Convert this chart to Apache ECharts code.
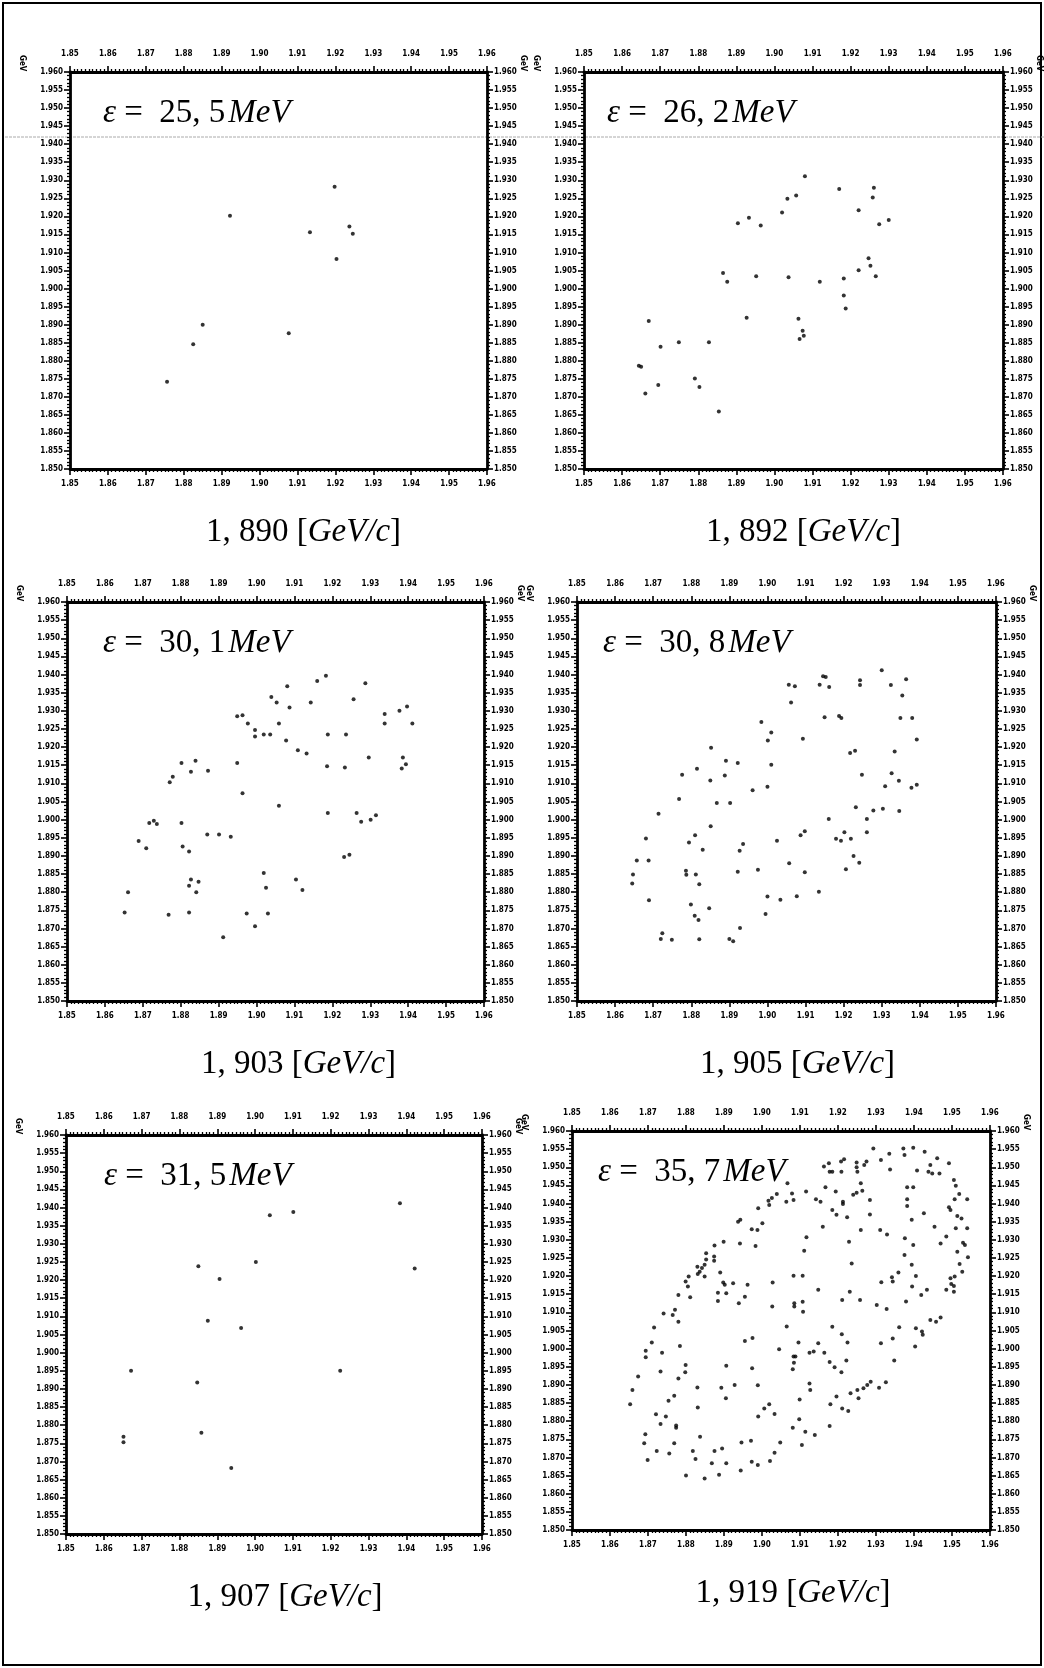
<!DOCTYPE html>
<html><head><meta charset="utf-8">
<script src="https://cdn.jsdelivr.net/npm/echarts@6/dist/echarts.min.js"></script>
<style>html,body{margin:0;padding:0;background:#fff}#c{width:1044px;height:1668px}</style>
</head><body><div id="c"></div><script>
// energies (MeV) and beam momenta (GeV/c) of the six panels
const epsilons = ['25, 5', '26, 2', '30, 1', '30, 8', '31, 5', '35, 7'];
const momenta = ['1, 890', '1, 892', '1, 903', '1, 905', '1, 907', '1, 919'];
// axis range, MeV (labels shown in GeV)
const xRange = [1850, 1960], xStep = 10;
const yRange = [1850, 1960], yStep = 5;

const pts1890 = [[1919.8,1928.2],[1892.2,1920.2],[1913.3,1915.6],[1923.7,1917.2],[1924.6,1915.2],[1920.3,1908.2],[1885.0,1890.0],[1882.5,1884.6],[1907.7,1887.6],[1875.6,1874.2]];

const pts1892 = [[1908.0,1931.1],[1917.0,1927.6],[1926.1,1927.9],[1925.8,1925.2],[1903.4,1924.9],[1905.7,1925.8],[1922.1,1921.7],[1902.0,1921.1],[1890.4,1918.1],[1893.3,1919.6],[1896.4,1917.5],[1927.5,1917.8],[1930.0,1919.0],[1924.7,1908.4],[1925.2,1906.3],[1922.1,1905.1],[1886.5,1904.3],[1887.6,1901.9],[1895.2,1903.4],[1903.7,1903.1],[1911.9,1901.9],[1918.2,1902.8],[1926.6,1903.4],[1918.2,1898.1],[1918.7,1894.5],[1892.7,1891.9],[1906.3,1891.6],[1907.4,1888.3],[1907.7,1886.9],[1906.6,1886.0],[1867.0,1891.0],[1870.1,1883.9],[1874.9,1885.1],[1882.8,1885.1],[1864.4,1878.6],[1865.0,1878.3],[1869.5,1873.3],[1866.1,1870.9],[1879.1,1875.1],[1880.3,1872.7],[1885.4,1865.9]];

const pts1903 = [[1918.3,1939.7],[1916.0,1938.2],[1908.1,1936.8],[1928.7,1937.6],[1903.9,1933.8],[1905.3,1932.3],[1925.6,1933.2],[1908.7,1930.9],[1914.3,1932.3],[1939.7,1931.2],[1937.7,1930.0],[1933.8,1929.1],[1941.1,1926.5],[1933.8,1926.5],[1894.9,1928.5],[1896.3,1928.8],[1897.7,1926.5],[1899.6,1924.7],[1899.6,1922.9],[1901.9,1923.5],[1903.6,1923.5],[1905.9,1926.5],[1907.8,1921.8],[1910.9,1919.1],[1913.2,1918.2],[1918.6,1914.7],[1923.3,1914.4],[1929.6,1917.1],[1938.6,1917.1],[1939.4,1915.3],[1938.3,1914.1],[1923.6,1923.5],[1918.8,1923.5],[1877.9,1911.8],[1882.7,1913.2],[1880.2,1915.6],[1883.9,1916.2],[1887.2,1913.5],[1877.1,1910.3],[1894.9,1915.6],[1896.3,1907.3],[1905.9,1903.8],[1872.9,1899.7],[1871.7,1899.1],[1873.7,1898.8],[1880.2,1899.1],[1918.8,1901.8],[1926.4,1901.8],[1927.6,1899.4],[1930.1,1900.0],[1931.5,1901.2],[1868.9,1894.1],[1870.9,1892.1],[1880.5,1892.6],[1882.2,1891.2],[1887.0,1895.9],[1890.1,1895.9],[1893.2,1895.3],[1923.1,1889.7],[1924.5,1890.3],[1882.7,1883.5],[1882.2,1881.8],[1884.1,1880.0],[1884.7,1882.9],[1901.9,1885.3],[1902.5,1881.2],[1910.4,1883.5],[1912.1,1880.6],[1866.1,1880.0],[1865.2,1874.4],[1876.8,1873.8],[1882.2,1874.4],[1897.4,1874.1],[1899.6,1870.6],[1903.0,1874.1],[1891.2,1867.6]];

const pts1905 = [[1930.0,1941.2],[1936.4,1938.7],[1932.4,1937.1],[1924.3,1938.4],[1924.3,1937.1],[1914.6,1939.5],[1915.3,1939.3],[1913.7,1937.2],[1916.2,1936.6],[1905.6,1937.2],[1907.2,1936.8],[1906.2,1932.3],[1935.4,1934.2],[1915.0,1928.2],[1918.8,1928.6],[1919.4,1928.0],[1934.9,1928.0],[1938.0,1928.0],[1939.2,1922.1],[1909.3,1922.3],[1898.4,1926.9],[1901.0,1924.0],[1900.1,1921.8],[1921.7,1918.4],[1923.0,1919.0],[1933.4,1918.8],[1885.2,1919.8],[1889.1,1916.2],[1892.2,1915.6],[1901.0,1915.1],[1877.6,1912.4],[1881.5,1914.0],[1885.0,1910.8],[1888.8,1912.2],[1900.0,1909.1],[1896.1,1908.1],[1924.8,1912.4],[1932.6,1912.8],[1934.5,1910.7],[1930.9,1909.2],[1937.8,1908.8],[1939.2,1909.6],[1876.8,1905.7],[1886.7,1904.6],[1890.2,1904.6],[1923.2,1903.4],[1927.8,1902.5],[1930.3,1903.0],[1934.6,1902.4],[1871.4,1901.6],[1916.1,1900.2],[1926.1,1900.2],[1885.1,1898.2],[1868.1,1894.8],[1881.0,1895.7],[1879.4,1893.7],[1883.0,1891.7],[1902.5,1894.2],[1908.7,1895.7],[1909.8,1896.8],[1893.6,1893.3],[1892.7,1891.4],[1918.0,1894.7],[1919.3,1894.2],[1920.2,1896.5],[1921.9,1894.7],[1922.6,1890.0],[1924.1,1888.1],[1920.6,1886.3],[1926.1,1896.5],[1865.7,1888.7],[1868.8,1888.7],[1864.7,1884.9],[1864.5,1882.4],[1878.6,1885.9],[1878.7,1884.8],[1881.2,1884.9],[1882.1,1882.2],[1892.2,1885.6],[1897.5,1886.2],[1905.7,1888.0],[1909.8,1885.5],[1868.9,1877.8],[1879.9,1876.6],[1880.9,1873.5],[1881.9,1872.3],[1884.7,1875.6],[1900.0,1878.8],[1903.4,1877.9],[1907.7,1878.9],[1913.5,1880.1],[1899.5,1874.0],[1892.8,1870.1],[1872.4,1868.7],[1872.0,1867.1],[1874.9,1866.9],[1882.1,1867.0],[1890.0,1867.1],[1891.0,1866.5]];

const pts1907 = [[1938.3,1941.2],[1903.9,1937.9],[1910.1,1938.8],[1942.2,1923.2],[1900.2,1925.0],[1885.0,1923.8],[1890.6,1920.3],[1887.5,1908.8],[1896.3,1906.8],[1867.2,1895.0],[1922.5,1895.0],[1884.7,1891.8],[1885.8,1877.9],[1865.2,1876.8],[1865.2,1875.3],[1893.7,1868.2]];

const pts1919 = [[1929.3,1955.2],[1937.2,1955.2],[1939.8,1955.4],[1942.8,1954.3],[1937.5,1953.4],[1933.5,1953.7],[1931.3,1952.0],[1927.5,1951.6],[1924.9,1951.3],[1921.6,1952.2],[1920.8,1951.6],[1926.9,1950.6],[1924.9,1950.0],[1917.6,1951.1],[1916.3,1950.2],[1917.8,1948.8],[1918.5,1948.8],[1920.9,1948.8],[1925.1,1948.8],[1933.7,1949.4],[1944.3,1950.6],[1946.1,1952.5],[1949.2,1951.1],[1940.8,1949.1],[1943.8,1948.8],[1944.8,1948.3],[1946.7,1948.3],[1950.5,1946.5],[1951.0,1944.9],[1938.2,1944.5],[1939.8,1944.5],[1951.9,1942.6],[1950.7,1941.2],[1954.0,1941.2],[1938.2,1941.2],[1938.2,1939.3],[1949.2,1939.0],[1949.6,1938.2],[1951.4,1936.6],[1952.5,1935.9],[1951.0,1933.2],[1954.0,1933.2],[1948.5,1930.9],[1947.0,1929.0],[1952.9,1929.2],[1953.4,1928.6],[1951.4,1926.7],[1954.2,1925.2],[1952.0,1923.3],[1952.7,1921.2],[1950.7,1919.9],[1949.6,1919.4],[1949.8,1917.8],[1950.5,1917.3],[1950.5,1915.7],[1948.5,1916.2],[1943.4,1916.2],[1941.9,1914.8],[1939.5,1917.1],[1940.5,1920.0],[1939.4,1923.1],[1937.5,1925.8],[1937.6,1930.4],[1939.8,1928.6],[1939.4,1935.5],[1942.6,1937.3],[1945.4,1933.6],[1937.9,1913.0],[1947.0,1908.6],[1945.8,1907.4],[1944.3,1907.9],[1940.5,1905.6],[1942.1,1904.7],[1942.3,1903.8],[1940.3,1900.6],[1936.1,1905.9],[1934.4,1902.8],[1931.3,1901.5],[1934.8,1896.7],[1932.8,1910.9],[1930.2,1912.0],[1935.9,1921.0],[1934.2,1919.7],[1934.4,1918.5],[1931.4,1918.3],[1925.8,1913.4],[1923.1,1915.7],[1921.1,1913.4],[1928.4,1937.0],[1931.1,1932.7],[1932.9,1931.5],[1926.0,1932.7],[1923.6,1923.5],[1922.9,1929.5],[1928.4,1941.0],[1926.0,1945.6],[1926.4,1943.5],[1924.0,1942.4],[1924.9,1943.0],[1922.4,1936.2],[1921.3,1940.5],[1921.3,1939.9],[1919.4,1943.3],[1916.7,1944.5],[1919.6,1936.9],[1918.5,1938.2],[1915.4,1940.5],[1914.2,1941.2],[1916.0,1933.6],[1911.7,1930.7],[1911.1,1927.0],[1908.3,1920.1],[1910.7,1920.1],[1908.5,1912.5],[1908.5,1911.6],[1910.7,1912.9],[1910.8,1910.2],[1914.8,1916.2],[1906.5,1906.1],[1909.6,1901.7],[1914.8,1901.5],[1913.6,1899.2],[1916.4,1898.9],[1912.5,1898.9],[1908.8,1897.8],[1908.4,1896.1],[1908.1,1894.3],[1917.8,1896.3],[1919.1,1894.9],[1920.9,1893.5],[1922.2,1896.7],[1922.5,1901.7],[1921.0,1904.0],[1918.5,1906.0],[1911.6,1943.3],[1908.3,1941.0],[1906.4,1940.5],[1907.9,1942.8],[1906.7,1945.6],[1903.9,1942.6],[1902.6,1941.5],[1901.9,1939.6],[1901.7,1940.8],[1899.0,1938.7],[1900.1,1934.6],[1898.8,1932.7],[1897.3,1932.9],[1894.3,1935.5],[1893.7,1935.0],[1898.3,1928.3],[1894.2,1929.0],[1889.9,1929.5],[1887.5,1928.4],[1887.4,1925.4],[1887.4,1924.2],[1885.3,1926.3],[1885.3,1924.6],[1884.9,1923.1],[1884.2,1922.2],[1883.0,1922.6],[1883.6,1921.2],[1883.1,1920.6],[1884.9,1919.9],[1880.7,1919.9],[1879.9,1918.5],[1880.5,1917.1],[1881.1,1914.2],[1878.0,1914.8],[1889.0,1921.0],[1889.8,1918.2],[1890.2,1917.6],[1892.4,1918.0],[1896.2,1917.6],[1890.6,1915.3],[1888.4,1915.4],[1888.4,1913.1],[1895.5,1914.3],[1893.9,1912.5],[1902.8,1918.2],[1902.7,1911.6],[1877.1,1910.7],[1876.5,1909.3],[1878.0,1907.4],[1874.1,1909.7],[1871.6,1905.8],[1871.0,1901.7],[1869.4,1899.4],[1869.4,1897.6],[1873.7,1898.9],[1873.3,1893.7],[1878.4,1900.7],[1879.9,1895.5],[1879.8,1893.5],[1878.0,1891.8],[1867.4,1892.3],[1865.9,1888.6],[1865.3,1884.7],[1876.9,1887.0],[1875.4,1885.6],[1872.1,1881.9],[1874.7,1881.3],[1873.3,1879.2],[1877.4,1878.8],[1877.4,1878.2],[1869.3,1876.4],[1869.0,1873.9],[1872.3,1871.8],[1869.9,1869.3],[1875.6,1871.1],[1876.9,1873.9],[1881.8,1871.8],[1882.5,1869.6],[1883.7,1875.7],[1883.1,1883.8],[1883.0,1889.3],[1889.3,1889.2],[1890.6,1895.3],[1890.5,1886.3],[1892.8,1890.0],[1897.4,1894.6],[1897.5,1902.9],[1895.5,1902.1],[1898.9,1889.9],[1899.0,1881.3],[1900.6,1883.5],[1901.9,1884.7],[1903.3,1882.0],[1904.5,1899.8],[1908.3,1897.8],[1912.5,1890.4],[1912.7,1888.6],[1909.9,1886.0],[1909.8,1880.5],[1908.1,1878.2],[1911.4,1877.1],[1913.9,1876.2],[1917.8,1878.7],[1918.0,1884.7],[1919.6,1886.8],[1921.1,1883.5],[1922.7,1882.8],[1923.3,1887.7],[1925.1,1888.6],[1925.4,1886.3],[1926.7,1889.1],[1927.7,1890.0],[1928.6,1890.9],[1930.8,1889.2],[1932.6,1890.7],[1886.8,1868.4],[1887.5,1871.8],[1889.5,1872.5],[1890.6,1868.4],[1888.7,1865.2],[1884.9,1864.2],[1880.0,1865.0],[1894.4,1866.4],[1894.6,1874.1],[1897.1,1874.6],[1897.3,1868.8],[1898.9,1867.9],[1902.1,1869.0],[1903.3,1871.3],[1904.8,1874.1],[1910.5,1873.4]];

const panelData = [pts1890, pts1892, pts1903, pts1905, pts1907, pts1919];

// page layout (pixels)
const grids = [
  {left: 70, top: 72, width: 417, height: 397},
  {left: 584, top: 72, width: 419, height: 397},
  {left: 67, top: 602, width: 417, height: 399},
  {left: 577, top: 602, width: 419, height: 399},
  {left: 66, top: 1135, width: 416, height: 399},
  {left: 572, top: 1131, width: 418, height: 399}
];
const titleDx = [28, 18, 31, 21, 33, 21];
const captionDx = [20, 5, 18, 6, 6, 7];

const LBL = {fontSize: 8, fontWeight: 900, color: '#000', fontFamily: 'DejaVu Sans Condensed'};
const LINE = {show: true, lineStyle: {color: '#000', width: 2.8}};
const TXT = {fontFamily: 'Liberation Serif', fontSize: 33, fontWeight: 'normal', color: '#000'};
const TXTI = Object.assign({}, TXT, {fontStyle: 'italic'});

const xAxes = [], yAxes = [], series = [], titles = [], graphics = [];
grids.forEach((g, i) => {
  ['bottom', 'top'].forEach(pos => xAxes.push({
    type: 'value', gridIndex: i, position: pos, min: xRange[0], max: xRange[1], interval: xStep,
    axisLine: LINE, splitLine: {show: false},
    axisTick: {show: true, length: 6, lineStyle: {color: '#000', width: 1.6}},
    minorTick: {show: true, splitNumber: 10, length: 3, lineStyle: {color: '#000', width: 1.3}},
    axisLabel: Object.assign({margin: pos === 'bottom' ? 11 : 14, formatter: v => (v / 1000).toFixed(2)}, LBL)
  }));
  ['left', 'right'].forEach(pos => yAxes.push({
    type: 'value', gridIndex: i, position: pos, min: yRange[0], max: yRange[1], interval: yStep,
    axisLine: LINE, splitLine: {show: false},
    axisTick: {show: true, length: 6, lineStyle: {color: '#000', width: 1.6}},
    minorTick: {show: true, splitNumber: 5, length: 3, lineStyle: {color: '#000', width: 1.3}},
    axisLabel: Object.assign({margin: 7, formatter: v => (v / 1000).toFixed(3)}, LBL)
  }));
  series.push({
    type: 'scatter', xAxisIndex: 2 * i, yAxisIndex: 2 * i, data: panelData[i],
    symbol: 'circle', symbolSize: 4, itemStyle: {color: '#000'}, silent: true
  });
  titles.push({
    left: g.left + titleDx[i], top: g.top + 20,
    text: '{e|ε}{r| =  ' + epsilons[i] + '}{m|MeV}',
    textStyle: {rich: {e: TXTI, r: TXT, m: Object.assign({}, TXTI, {padding: [0, 0, 0, 3]})}}
  });
  titles.push({
    left: g.left + g.width / 2 + captionDx[i], top: g.top + g.height + 42, textAlign: 'center',
    text: '{r|' + momenta[i] + ' [}{m|GeV/c}{r|]}',
    textStyle: {rich: {r: TXT, m: TXTI}}
  });
  [g.left - 44, g.left + g.width + 40].forEach(x => graphics.push({
    type: 'text', x: x, y: g.top - 17, rotation: -Math.PI / 2,
    style: {text: 'GeV', fontSize: 8, fontWeight: 900, fill: '#000', fontFamily: 'DejaVu Sans Condensed'}
  }));
});

// page frame and the faint scan line across the top row
graphics.push({type: 'rect', shape: {x: 3, y: 3, width: 1038, height: 1662}, style: {fill: 'none', stroke: '#000', lineWidth: 2}});
graphics.push({type: 'line', shape: {x1: 5, y1: 137, x2: 1044, y2: 137}, style: {stroke: '#aaa', lineWidth: 1, lineDash: [3, 1]}});

const chart = echarts.init(document.getElementById('c'), null, {renderer: 'canvas'});
chart.setOption({
  animation: false, backgroundColor: '#fff',
  grid: grids, xAxis: xAxes, yAxis: yAxes, series: series, title: titles, graphic: graphics
});
</script></body></html>
